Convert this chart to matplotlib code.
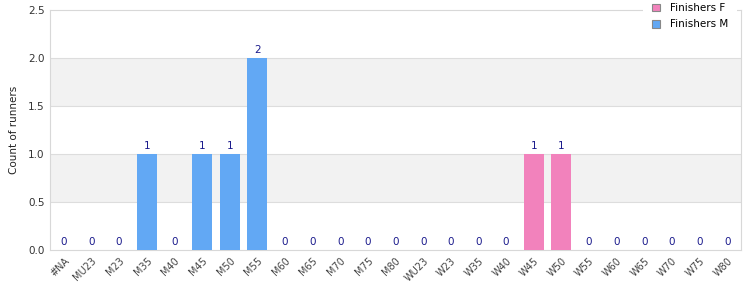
import matplotlib
matplotlib.use("Agg")
import matplotlib.pyplot as plt
from matplotlib.patches import Patch, Rectangle

categories = ["#NA", "MU23", "M23", "M35", "M40", "M45", "M50", "M55", "M60", "M65",
              "M70", "M75", "M80", "WU23", "W23", "W35", "W40", "W45", "W50", "W55",
              "W60", "W65", "W70", "W75", "W80"]
finishers_f = [0, 0, 0, 0, 0, 0, 0, 0, 0, 0, 0, 0, 0, 0, 0, 0, 0, 1, 1, 0, 0, 0, 0, 0, 0]
finishers_m = [0, 0, 0, 1, 0, 1, 1, 2, 0, 0, 0, 0, 0, 0, 0, 0, 0, 0, 0, 0, 0, 0, 0, 0, 0]
y_ticks = [0.0, 0.5, 1.0, 1.5, 2.0, 2.5]

col_f = "#f282bc"
col_m = "#62a8f4"

fig = plt.figure(figsize=(7.5, 3.0), dpi=100)
ax = fig.add_axes([50/750, 50/300, 691/750, 240/300])

x = list(range(len(categories)))
ax.bar(x, finishers_m, width=0.72, color=col_m, zorder=3)
ax.bar(x, finishers_f, width=0.72, bottom=finishers_m, color=col_f, zorder=3)

# alternating bands
for i, (lo, hi) in enumerate(zip(y_ticks[:-1], y_ticks[1:])):
    if i % 2 == 1:
        ax.axhspan(lo, hi, color="#f2f2f2", zorder=0, lw=0)
for t in y_ticks[1:-1]:
    ax.axhline(t, color="#dddddd", lw=0.8, zorder=1)

for xi, f, m in zip(x, finishers_f, finishers_m):
    tot = f + m
    ax.text(xi, tot + 0.03, str(tot), ha="center", va="bottom", fontsize=7.5,
            color="#1a1a8c", zorder=4)

ax.set_xlim(-0.5, len(categories) - 0.5)
ax.set_ylim(0, 2.5)
ax.set_yticks(y_ticks)
ax.set_yticklabels([f"{t:.1f}" for t in y_ticks], fontsize=7.5, color="#333333")
ax.set_xticks(x)
ax.set_xticklabels(categories, rotation=45, ha="right", rotation_mode="anchor",
                   fontsize=7, color="#444444")
ax.tick_params(axis="both", length=0, pad=4)
ax.set_ylabel("Count of runners", fontsize=7.5, color="#222222", labelpad=6)
for s in ax.spines.values():
    s.set_color("#d8d8d8")
    s.set_linewidth(0.8)

# white backing of the legend box (covers part of the top border)
fig.patches.append(Rectangle((643/750, 1 - 12/300), 94/750, 12/300,
                             transform=fig.transFigure, facecolor="white",
                             edgecolor="none", zorder=5))

handles = [Patch(facecolor=col_f, edgecolor="#888888", lw=0.8, label="Finishers F"),
           Patch(facecolor=col_m, edgecolor="#888888", lw=0.8, label="Finishers M")]
leg = fig.legend(handles=handles, loc="upper right", bbox_to_anchor=(731/750, 1.0),
                 frameon=True, fontsize=7.5, handlelength=0.8, handleheight=0.8,
                 borderpad=0.3, labelspacing=0.6, handletextpad=0.9,
                 borderaxespad=0.0)
leg.get_frame().set_facecolor("white")
leg.get_frame().set_edgecolor("white")
leg.get_frame().set_alpha(1.0)
leg.set_zorder(10)

fig.savefig("out.png", dpi=100, facecolor="white")
